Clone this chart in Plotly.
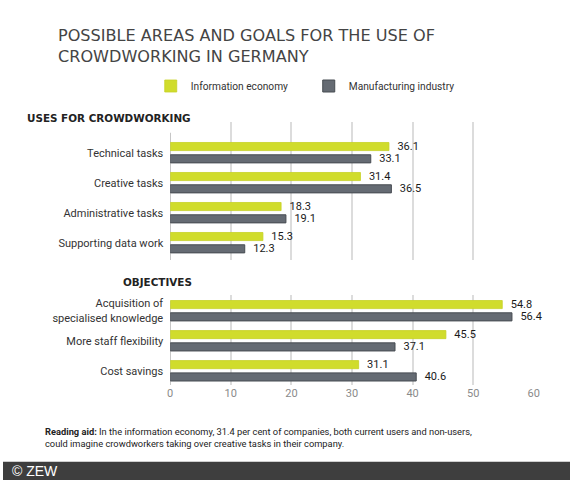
import plotly.graph_objects as go

# data
uses = ['Technical tasks', 'Creative tasks', 'Administrative tasks', 'Supporting data work']
uses_info = [36.1, 31.4, 18.3, 15.3]
uses_manuf = [33.1, 36.5, 19.1, 12.3]

objectives = ['Acquisition of<br>specialised knowledge', 'More staff flexibility', 'Cost savings']
obj_info = [54.8, 45.5, 31.1]
obj_manuf = [56.4, 37.1, 40.6]

x_ticks = [0, 10, 20, 30, 40, 50, 60]

GREEN = '#d0dc2c'
GREY = '#656b73'
FONT = 'Roboto, sans-serif'
HEAD = 'DejaVu Sans, sans-serif'
W, H = 578, 480   # page comes out a little wider than the 570 reference
RW = 570          # reference width, positions below are in reference pixels

fig = go.Figure()


def add_pair(cats, info, manuf, xaxis, yaxis, legend):
    label_font = dict(size=11, color='#1a1a1a', family=FONT)
    fig.add_trace(go.Bar(y=cats, x=info, orientation='h', name='Information economy',
                         marker=dict(color=GREEN, line=dict(color='#c6d226', width=0.8)),
                         width=0.27, offset=-0.34, xaxis=xaxis, yaxis=yaxis,
                         texttemplate='\u00a0\u00a0%{x:.1f}', textposition='outside',
                         constraintext='none', textfont=label_font,
                         cliponaxis=False, showlegend=legend, legendgroup='info'))
    fig.add_trace(go.Bar(y=cats, x=manuf, orientation='h', name='Manufacturing industry',
                         marker=dict(color=GREY, line=dict(color='#474c52', width=1)),
                         width=0.27, offset=0.07, xaxis=xaxis, yaxis=yaxis,
                         texttemplate='\u00a0\u00a0%{x:.1f}', textposition='outside',
                         constraintext='none', textfont=label_font,
                         cliponaxis=False, showlegend=legend, legendgroup='manuf'))


add_pair(uses, uses_info, uses_manuf, 'x2', 'y', True)
add_pair(objectives, obj_info, obj_manuf, 'x', 'y2', False)

grid = dict(showgrid=True, gridcolor='#dcdcdc', gridwidth=1.5, zeroline=False)
xdom = [167.5 / RW, 531.7 / RW]
cat_axis = dict(showgrid=False, zeroline=False, ticks='', ticklabelstandoff=6,
                tickfont=dict(size=11, color='#333333', family=FONT))

fig.update_layout(
    width=W, height=H,
    margin=dict(l=0, r=0, t=0, b=0),
    paper_bgcolor='white', plot_bgcolor='white',
    font=dict(family=FONT, color='#333333'),
    barmode='overlay',
    xaxis=dict(domain=xdom, range=[0, 60], tickvals=x_ticks, anchor='y2', ticks='',
               tickfont=dict(size=11, color='#8a8a8a', family=FONT), **grid),
    xaxis2=dict(domain=xdom, matches='x', anchor='y', tickvals=x_ticks,
                showticklabels=False, ticks='', **grid),
    yaxis=dict(domain=[1 - 260 / H, 1 - 122 / H], range=[3.577, -1.023], anchor='x2', **cat_axis),
    yaxis2=dict(domain=[1 - 385 / H, 1 - 295 / H], range=[2.473, -0.523], anchor='x', **cat_axis),
    legend=dict(orientation='h', x=148 / RW, y=1 - 86 / H, xanchor='left', yanchor='middle',
                font=dict(size=10.2, color='#333333', family=FONT), entrywidth=113,
                itemwidth=30, bgcolor='rgba(0,0,0,0)'),
)

# zero lines (shorter than the gridlines at the top)
for xref, yref, y0, y1 in [('x2', 'y', -0.667, 3.577), ('x', 'y2', -0.323, 2.473)]:
    fig.add_shape(type='line', xref=xref, yref=yref, x0=0, x1=0, y0=y0, y1=y1,
                  line=dict(color='#b4b4b4', width=1.5), layer='below')

# footer band
fig.add_shape(type='rect', xref='paper', yref='paper', x0=0, x1=1, y0=0, y1=18.3 / H,
              fillcolor='#3e3e3e', line=dict(width=0))

anns = [
    dict(text='POSSIBLE AREAS AND GOALS FOR THE USE OF<br>CROWDWORKING IN GERMANY',
         x=53 / RW, y=1 - 23.5 / H, xanchor='left', yanchor='top', align='left',
         font=dict(size=16.1, color='#444444', family=HEAD)),
    dict(text='<b>USES FOR CROWDWORKING</b>', x=190 / RW, y=1 - 118 / H,
         xanchor='right', yanchor='middle', font=dict(size=10.4, color='#222222', family=HEAD)),
    dict(text='<b>OBJECTIVES</b>', x=191 / RW, y=1 - 282 / H,
         xanchor='right', yanchor='middle', font=dict(size=10.4, color='#222222', family=HEAD)),
    dict(text='<b>Reading aid:</b> In the information economy, 31.4 per cent of companies, both current users and non-users,'
              '<br>could imagine crowdworkers taking over creative tasks in their company.',
         x=40 / RW, y=1 - 437 / H, xanchor='left', yanchor='middle', align='left',
         font=dict(size=9.3, color='#222222', family=FONT)),
    dict(text='© ZEW', x=7 / RW, y=8.8 / H, xanchor='left', yanchor='middle',
         font=dict(size=14, color='white', family='Liberation Sans, Arial')),
]
for a in anns:
    fig.add_annotation(xref='paper', yref='paper', showarrow=False, **a)

fig.write_html('out.html', config=dict(displayModeBar=False, responsive=False),
               post_script="document.body.style.margin='0';"
                           "document.documentElement.style.overflow='hidden';")
